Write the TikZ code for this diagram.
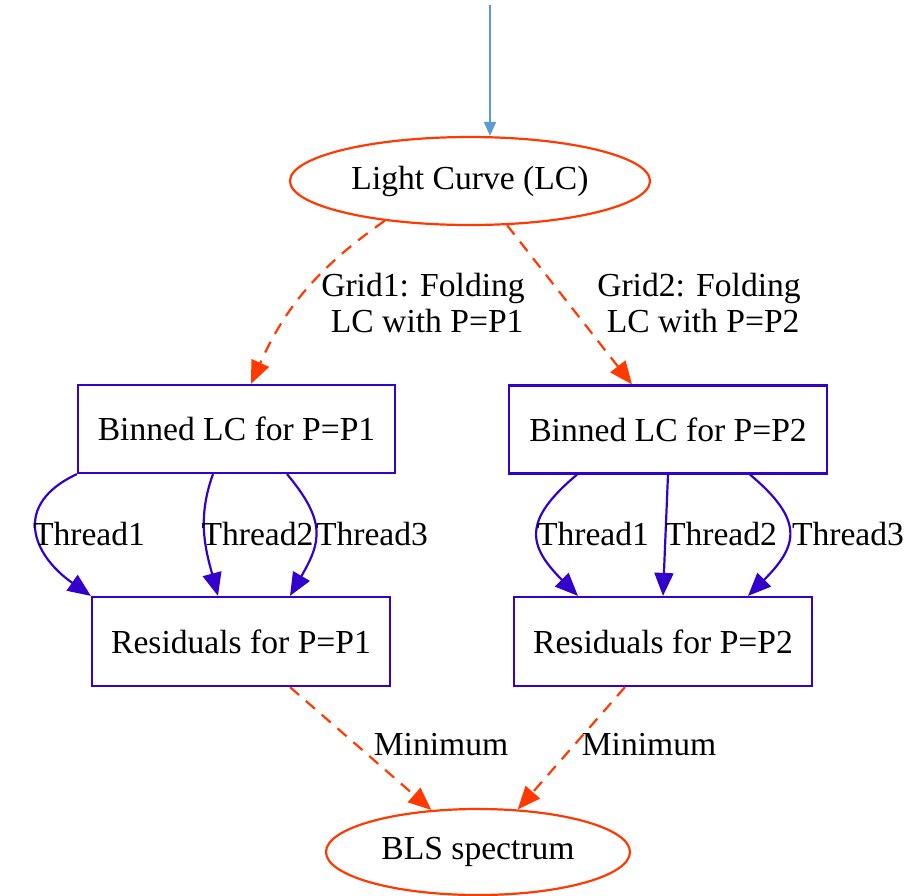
\documentclass[tikz,border=0pt]{standalone}
\usepackage{fontspec}
\setmainfont{Liberation Serif}
\usetikzlibrary{arrows.meta,shapes.geometric}
\definecolor{gvred}{RGB}{255,58,0}
\definecolor{gvblue}{RGB}{51,0,204}
\definecolor{gvsky}{RGB}{91,155,213}
\tikzset{
  txt/.style={font=\fontsize{16.8}{18}\selectfont},
  oval/.style={txt,ellipse,draw=gvred,line width=1.1pt,inner sep=0pt},
  binbox/.style={txt,rectangle,draw=gvblue,line width=1.1pt,inner sep=0pt},
  fold/.style={gvred,line width=1.1pt,dash pattern=on 6pt off 4.5pt,-{Triangle[length=11.5pt,width=9.5pt]}},
  thread/.style={gvblue,line width=1.1pt,-{Triangle[length=11.5pt,width=9.5pt]}},
  lbl/.style={txt,align=center,inner sep=0pt}
}
\begin{document}
\begin{tikzpicture}[x=0.5pt,y=-0.5pt]
\useasboundingbox (0,0) rectangle (907,896);
\node[oval,minimum width=180pt,minimum height=44pt] (lc) at (470,181) {Light Curve (LC)};
\node[binbox,minimum width=158.5pt,minimum height=44pt] (bin1) at (236.5,429) {Binned LC for P=P1};
\node[binbox,minimum width=159pt,minimum height=44pt] (bin2) at (668,429.5) {Binned LC for P=P2};
\node[binbox,minimum width=149pt,minimum height=44.5pt] (res1) at (241,641.5) {Residuals for P=P1};
\node[binbox,minimum width=149pt,minimum height=44.5pt] (res2) at (663,641.5) {Residuals for P=P2};
\node[oval,minimum width=152pt,minimum height=43pt] (bls) at (478,852) {BLS spectrum};
\coordinate (src) at (490,5);
\draw[gvsky,line width=0.8pt,-{Triangle[length=7pt,width=6pt]}] (src) -- (src |- lc.north);
\draw[fold] (lc.205) to[out=215,in=66] ([xshift=7.25pt]bin1.north);
\draw[fold] (lc.-50) -- ([xshift=-18pt]bin2.north);
\node[lbl] (g1) at (423,303) {Grid1: Folding\\\ LC with P=P1};
\node[lbl] (g2) at (699,303) {Grid2: Folding\\\ LC with P=P2};
\draw[thread] (bin1.south west) to[out=205,in=145,looseness=1.5] (res1.north west);
\draw[thread] ([xshift=-11.75pt]bin1.south) to[out=250,in=105] ([xshift=-11.5pt]res1.north);
\draw[thread] ([xshift=25.25pt]bin1.south) to[out=-50,in=60,looseness=1.3] ([xshift=24.5pt]res1.north);
\node[lbl] (t11) at (89,534) {Thread1};
\node[lbl] (t12) at (257.5,534) {Thread2};
\node[lbl] (t13) at (372,534) {Thread3};
\draw[thread] ([xshift=-45.5pt]bin2.south) to[out=220,in=135,looseness=1.5] ([xshift=-42.5pt]res2.north);
\draw[thread] (bin2.south) -- (res2.north);
\draw[thread] ([xshift=41pt]bin2.south) to[out=-40,in=45,looseness=1.5] ([xshift=42.5pt]res2.north);
\node[lbl] (t21) at (593,534) {Thread1};
\node[lbl] (t22) at (721,534) {Thread2};
\node[lbl] (t23) at (848,534) {Thread3};
\draw[fold] ([xshift=24.5pt]res1.south) -- (bls.138);
\draw[fold] ([xshift=-19pt]res2.south) -- (bls.47);
\node[lbl] (m1) at (441,745) {Minimum};
\node[lbl] (m2) at (649,745) {Minimum};
\end{tikzpicture}
\end{document}
